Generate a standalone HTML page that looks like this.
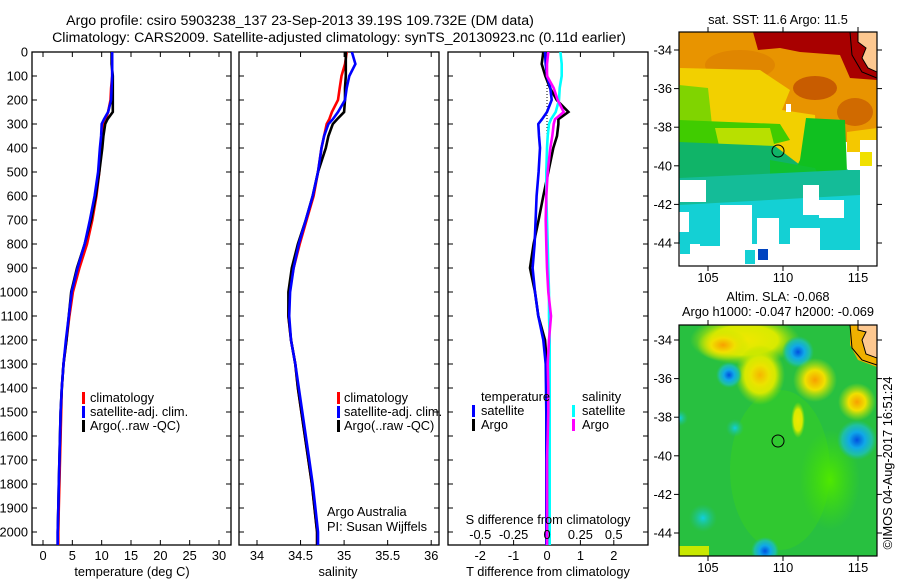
<!DOCTYPE html>
<html><head><meta charset="utf-8">
<style>
html,body{margin:0;padding:0;background:#fff;}
svg{display:block;font-family:"Liberation Sans",sans-serif;}
text{font-size:12.8px;fill:#000;}
</style></head>
<body>
<svg id="fig" width="900" height="580" viewBox="0 0 900 580" xmlns="http://www.w3.org/2000/svg">
<defs>
  <clipPath id="c1"><rect x="32" y="52" width="199" height="493"/></clipPath>
  <clipPath id="c2"><rect x="239" y="52" width="200" height="493"/></clipPath>
  <clipPath id="c3"><rect x="448" y="52" width="200" height="493"/></clipPath>
  <clipPath id="cm1"><rect x="679" y="32" width="198" height="234"/></clipPath>
  <clipPath id="cm2"><rect x="679" y="325" width="198" height="231"/></clipPath>
  <radialGradient id="gy"><stop offset="0" stop-color="#f8a000"/><stop offset="0.45" stop-color="#f0e000"/><stop offset="1" stop-color="#c0e800" stop-opacity="0"/></radialGradient>
  <radialGradient id="gyl"><stop offset="0" stop-color="#f0e800"/><stop offset="0.6" stop-color="#d8ea00"/><stop offset="1" stop-color="#a0e000" stop-opacity="0"/></radialGradient>
  <radialGradient id="gb"><stop offset="0" stop-color="#0050e0"/><stop offset="0.4" stop-color="#10a8e8"/><stop offset="0.75" stop-color="#20c0a0"/><stop offset="1" stop-color="#20c080" stop-opacity="0"/></radialGradient>
  <radialGradient id="gc"><stop offset="0" stop-color="#10d0e0"/><stop offset="1" stop-color="#20c090" stop-opacity="0"/></radialGradient>
  <radialGradient id="gl"><stop offset="0" stop-color="#50e800"/><stop offset="1" stop-color="#40e000" stop-opacity="0"/></radialGradient>
</defs>

<text x="300" y="25" text-anchor="middle" style="font-size:14.2px">Argo profile: csiro 5903238_137 23-Sep-2013 39.19S 109.732E (DM data)</text>
<text x="339" y="42" text-anchor="middle" style="font-size:14.2px">Climatology: CARS2009. Satellite-adjusted climatology: synTS_20130923.nc (0.11d earlier)</text>

<g id="p1"></g>
<g id="p2"></g>
<g id="p3"></g>

<!-- legends -->
<g>
  <rect x="82" y="392" width="3" height="12" fill="#f00"/><text x="90" y="402">climatology</text>
  <rect x="82" y="406" width="3" height="12" fill="#00f"/><text x="90" y="416">satellite-adj. clim.</text>
  <rect x="82" y="420" width="3" height="12" fill="#000"/><text x="90" y="430">Argo(..raw -QC)</text>
</g>
<g>
  <rect x="337" y="392" width="3" height="12" fill="#f00"/><text x="344" y="402">climatology</text>
  <rect x="337" y="406" width="3" height="12" fill="#00f"/><text x="344" y="416">satellite-adj. clim.</text>
  <rect x="337" y="420" width="3" height="12" fill="#000"/><text x="344" y="430">Argo(..raw -QC)</text>
</g>
<text x="327" y="516">Argo Australia</text>
<text x="327" y="531">PI: Susan Wijffels</text>
<g>
  <text x="481" y="401">temperature</text><text x="582" y="401">salinity</text>
  <rect x="472" y="405" width="3" height="12" fill="#00f"/><text x="481" y="415">satellite</text>
  <rect x="572" y="405" width="3" height="12" fill="#0ff"/><text x="582" y="415">satellite</text>
  <rect x="472" y="419" width="3" height="12" fill="#000"/><text x="481" y="429">Argo</text>
  <rect x="572" y="419" width="3" height="12" fill="#f0f"/><text x="582" y="429">Argo</text>
</g>

<!-- top map: SST -->
<g>
 <text x="778" y="24" text-anchor="middle">sat. SST: 11.6 Argo: 11.5</text>
 <g clip-path="url(#cm1)">
  <rect x="679" y="32" width="198" height="234" fill="#fff"/>
  <rect x="679" y="32" width="198" height="110" fill="#e89400"/>
  <ellipse cx="740" cy="65" rx="35" ry="15" fill="#e08600"/>
  <ellipse cx="815" cy="88" rx="22" ry="12" fill="#c85c00"/>
  <ellipse cx="855" cy="112" rx="18" ry="14" fill="#d06a00"/>
  <polygon points="753,32 877,32 877,80 850,78 840,55 800,52 780,48 758,50" fill="#a80000"/>
  <polygon points="680,68 760,70 790,90 782,110 815,115 817,165 790,168 770,150 740,130 680,128" fill="#f2d000"/>
  <polygon points="679,85 708,88 712,125 679,125" fill="#80d400"/>
  <polygon points="679,120 780,124 790,140 770,145 679,145" fill="#40cc00"/>
  <polygon points="715,128 770,128 775,148 720,150" fill="#b8e000"/>
  <polygon points="847,132 877,128 877,152 847,152" fill="#f4c800"/>
  <polygon points="679,142 775,146 800,165 810,182 679,182" fill="#10b468"/>
  <polygon points="806,118 845,120 847,172 806,192 790,180 800,160" fill="#10c020"/>
  <polygon points="770,160 815,168 830,200 770,195" fill="#10c030"/>
  <polygon points="679,178 845,170 870,165 870,200 679,212" fill="#14bc98"/>
  <polygon points="679,205 860,195 870,250 679,250" fill="#14d0d4"/>
  <rect x="860" y="140" width="17" height="126" fill="#fff"/>
  <rect x="848" y="152" width="12" height="18" fill="#fff"/>
  <rect x="860" y="152" width="12" height="14" fill="#f0e000"/>
  <rect x="680" y="180" width="26" height="22" fill="#fff"/>
  <rect x="679" y="212" width="10" height="20" fill="#fff"/>
  <rect x="720" y="205" width="32" height="40" fill="#fff"/>
  <rect x="803" y="185" width="16" height="30" fill="#fff"/>
  <rect x="819" y="200" width="25" height="18" fill="#fff"/>
  <rect x="757" y="218" width="22" height="26" fill="#fff"/>
  <rect x="790" y="228" width="30" height="18" fill="#fff"/>
  <rect x="679" y="244" width="198" height="22" fill="#fff"/>
  <rect x="680" y="244" width="10" height="10" fill="#14d0d4"/>
  <rect x="700" y="230" width="20" height="16" fill="#14d0d4"/>
  <rect x="745" y="250" width="10" height="14" fill="#14d0d4"/>
  <rect x="758" y="249" width="10" height="11" fill="#0044c0"/>
  <rect x="820" y="240" width="40" height="10" fill="#14d0d4"/>
  <rect x="786" y="104" width="5" height="8" fill="#fff"/>
  <polygon points="858,32 877,32 877,72 868,68 862,58 866,48 858,42" fill="#fdc890" stroke="#000" stroke-width="1"/>
  <path d="M850,32 L852,55 L862,72 L877,78" fill="none" stroke="#000" stroke-width="1"/>
 </g>
 <rect x="679" y="32" width="198" height="234" fill="none" stroke="#000" stroke-width="1.2"/>
 <circle cx="778" cy="151" r="6" fill="none" stroke="#000" stroke-width="1"/>
 <g id="m1ax"></g>
</g>

<!-- bottom map: SLA -->
<g>
 <text x="778" y="301" text-anchor="middle">Altim. SLA: -0.068</text>
 <text x="778" y="316" text-anchor="middle">Argo h1000: -0.047 h2000: -0.069</text>
 <g clip-path="url(#cm2)">
  <rect x="679" y="325" width="198" height="231" fill="#28c040"/>
  <ellipse cx="780" cy="470" rx="50" ry="80" fill="#30c830"/>
  <ellipse cx="830" cy="480" rx="30" ry="50" fill="url(#gl)"/>
  <ellipse cx="745" cy="340" rx="55" ry="25" fill="url(#gyl)"/>
  <ellipse cx="760" cy="375" rx="25" ry="30" fill="url(#gyl)"/>
  <ellipse cx="723" cy="345" rx="26" ry="16" fill="url(#gy)"/>
  <ellipse cx="760" cy="375" rx="20" ry="22" fill="url(#gy)" opacity="0.7"/>
  <ellipse cx="798" cy="420" rx="7" ry="18" fill="url(#gyl)"/>
  <circle cx="798" cy="352" r="16" fill="url(#gb)"/>
  <circle cx="729" cy="375" r="13" fill="url(#gb)"/>
  <circle cx="815" cy="380" r="22" fill="url(#gy)"/>
  <circle cx="857" cy="402" r="19" fill="url(#gy)"/>
  <circle cx="857" cy="440" r="20" fill="url(#gb)"/>
  <circle cx="735" cy="428" r="9" fill="url(#gc)"/>
  <circle cx="680" cy="418" r="8" fill="url(#gc)"/>
  <circle cx="703" cy="518" r="14" fill="url(#gc)"/>
  <circle cx="765" cy="551" r="14" fill="url(#gb)"/>
  <rect x="679" y="546" width="30" height="10" fill="#c8e800"/>
  <polygon points="850,325 877,325 877,367 858,360 850,345" fill="#f0b000"/>
  <polygon points="858,325 877,325 877,358 866,354 862,340 866,332 858,330" fill="#fdc890" stroke="#000" stroke-width="1"/>
  <path d="M850,325 L852,348 L862,360 L877,365" fill="none" stroke="#000" stroke-width="1"/>
 </g>
 <rect x="679" y="325" width="198" height="231" fill="none" stroke="#000" stroke-width="1.2"/>
 <circle cx="778" cy="441" r="6" fill="none" stroke="#000" stroke-width="1"/>
 <g id="m2ax"></g>
</g>
<text transform="translate(892,463) rotate(-90)" text-anchor="middle">©IMOS 04-Aug-2017 16:51:24</text>

<script>
// ---- data ----
const depths    = [0, 50, 100, 150, 200, 250, 280, 300, 350, 400, 500, 600, 700, 800, 900, 1000, 1100, 1200, 1300, 1400, 1500, 1600, 1700, 1800, 1900, 2000, 2055];
const tempClim  = [11.8, 11.8, 11.8, 11.6, 11.5, 11.1, 10.7, 10.4, 10.1, 9.9, 9.6, 9.1, 8.4, 7.5, 6.2, 5.1, 4.5, 4.0, 3.5, 3.2, 3.1, 3.0, 2.9, 2.8, 2.7, 2.6, 2.6];
const tempSat   = [11.8, 11.8, 11.8, 11.7, 11.6, 11.1, 10.4, 10.0, 9.9, 9.7, 9.4, 8.8, 8.0, 7.1, 5.9, 4.9, 4.4, 3.9, 3.5, 3.2, 3.0, 2.9, 2.8, 2.7, 2.6, 2.5, 2.5];
const tempArgo  = [11.7, 11.7, 11.9, 11.9, 11.9, 11.9, 11.0, 10.6, 10.3, 10.1, 9.6, 9.0, 8.2, 7.1, 5.8, 4.8, 4.4, 4.0, 3.5, 3.2, 3.0, 2.9, 2.8, 2.7, 2.6, 2.5, 2.5];
const salClim   = [35.03, 35.01, 34.97, 34.95, 34.93, 34.86, 34.83, 34.80, 34.77, 34.74, 34.70, 34.65, 34.57, 34.49, 34.42, 34.37, 34.36, 34.39, 34.44, 34.47, 34.51, 34.55, 34.59, 34.63, 34.66, 34.69, 34.69];
const salSat    = [35.09, 35.13, 35.06, 35.03, 35.01, 34.93, 34.87, 34.82, 34.77, 34.74, 34.70, 34.64, 34.56, 34.48, 34.42, 34.38, 34.37, 34.39, 34.44, 34.48, 34.52, 34.56, 34.60, 34.64, 34.67, 34.70, 34.70];
const salArgo   = [35.02, 35.02, 35.02, 35.01, 35.01, 35.00, 34.92, 34.87, 34.82, 34.79, 34.70, 34.64, 34.56, 34.47, 34.40, 34.36, 34.36, 34.39, 34.44, 34.47, 34.51, 34.55, 34.59, 34.63, 34.66, 34.69, 34.69];
const dTSat     = [-0.06, -0.04, 0.0, 0.1, 0.14, 0.0, -0.15, -0.26, -0.24, -0.21, -0.25, -0.31, -0.34, -0.37, -0.43, -0.36, -0.26, -0.11, -0.04, -0.03, -0.02, -0.02, -0.02, -0.02, -0.02, -0.02, -0.02];
const dTArgo    = [-0.11, -0.16, -0.05, 0.09, 0.29, 0.64, 0.34, 0.34, 0.3, 0.19, 0.04, -0.11, -0.25, -0.4, -0.51, -0.36, -0.26, -0.06, 0.0, 0.0, 0.0, 0.0, 0.0, 0.0, 0.0, 0.0, 0.0];
const dSSat     = [0.1, 0.11, 0.11, 0.095, 0.09, 0.065, 0.03, 0.015, 0.005, 0.0, -0.005, -0.005, 0.0, 0.005, 0.01, 0.015, 0.015, 0.02, 0.02, 0.02, 0.02, 0.02, 0.02, 0.02, 0.02, 0.02, 0.02];
const dSArgo    = [0.01, 0.0, 0.0, 0.05, 0.08, 0.125, 0.06, 0.05, 0.04, 0.025, 0.005, -0.005, -0.01, -0.005, 0.0, 0.01, 0.03, 0.015, 0.005, 0.01, 0.01, 0.005, 0.0, 0.0, 0.0, 0.0, 0.0];
const depthTicks = [0,100,200,300,400,500,600,700,800,900,1000,1100,1200,1300,1400,1500,1600,1700,1800,1900,2000];
const tempTicks  = [0,5,10,15,20,25,30];
const salTicks   = [34,34.5,35,35.5,36];
const dTTicks    = [-2,-1,0,1,2];
const dSTicks    = [-0.5,-0.25,0,0.25,0.5];
const lonTicks   = [105,110,115];
const latTicks   = [-34,-36,-38,-40,-42,-44];

// ---- scales ----
const NS='http://www.w3.org/2000/svg';
const yD = d => 52 + d*0.24;
const xT = t => 43 + t*5.867;
const xS = s => 257 + (s-34)*87.1;
const xdT = v => 547 + v*33.4;
const xdS = v => 547 + v*133.5;
const lonX = l => 708 + (l-105)*15;
const latY1 = a => 50 + (-34-a)*19.3;
const latY2 = a => 340 + (-34-a)*19.3;

function mk(tag, attrs, parent){const e=document.createElementNS(NS,tag);for(const k in attrs)e.setAttribute(k,attrs[k]);parent.appendChild(e);return e;}
function txt(parent,x,y,s,anchor){const t=mk('text',{x:x,y:y,'text-anchor':anchor||'middle'},parent);t.textContent=s;return t;}

function frame(g,x0,x1){
  const r=mk('rect',{x:x0,y:52,width:x1-x0,height:493,fill:'none',stroke:'#000','stroke-width':1.3},g);
  
  
  depthTicks.forEach(d=>{
    mk('line',{x1:x0,x2:x0+5,y1:yD(d),y2:yD(d),stroke:'#000'},g);
    mk('line',{x1:x1-5,x2:x1,y1:yD(d),y2:yD(d),stroke:'#000'},g);
  });
}
function xticks(g,ticks,sc,y,top){
  ticks.forEach(t=>{
    mk('line',{x1:sc(t),x2:sc(t),y1:545,y2:540,stroke:'#000'},g);
    if(top) mk('line',{x1:sc(t),x2:sc(t),y1:52,y2:57,stroke:'#000'},g);
    const l=txt(g,sc(t),y,String(t));
    
    
  });
}
function line(g,xs,sc,color,clip,w){
  const pts=xs.map((v,i)=>sc(v).toFixed(1)+','+yD(depths[i]).toFixed(1)).join(' ');
  return mk('polyline',{points:pts,fill:'none',stroke:color,'stroke-width':w||2.6,'clip-path':'url(#'+clip+')'},g);
}

// panel 1
const p1=document.getElementById('p1');
frame(p1,32,231);
depthTicks.forEach(d=>{const l=txt(p1,28,yD(d)+4.5,String(d),'end');

});
xticks(p1,tempTicks,xT,560,true);
let s;
s=line(p1,tempClim,xT,'#f00','c1');


s=line(p1,tempArgo,xT,'#000','c1');


s=line(p1,tempSat,xT,'#00f','c1');


let t=txt(p1,132,576,'temperature (deg C)');



// panel 2
const p2=document.getElementById('p2');
frame(p2,239,439);
xticks(p2,salTicks,xS,560,true);
s=line(p2,salClim,xS,'#f00','c2');


s=line(p2,salArgo,xS,'#000','c2');


s=line(p2,salSat,xS,'#00f','c2');


t=txt(p2,338,576,'salinity');



// panel 3
const p3=document.getElementById('p3');
frame(p3,448,648);
xticks(p3,dTTicks,xdT,560,true);
mk('line',{x1:547,x2:547,y1:52,y2:250,stroke:'#000','stroke-dasharray':'1,2'},p3);
s=line(p3,dTArgo,xdT,'#000','c3');


s=line(p3,dTSat,xdT,'#00f','c3');


s=line(p3,dSSat,xdS,'#0ff','c3');


s=line(p3,dSArgo,xdS,'#f0f','c3');


t=txt(p3,548,524,'S difference from climatology');


dSTicks.forEach(v=>{const l=txt(p3,xdS(v),539,String(v));

});
t=txt(p3,548,576,'T difference from climatology');



// map axes
function mapAxes(id,y0,y1,latY){
  const g=document.getElementById(id);
  lonTicks.forEach(l=>{
    mk('line',{x1:lonX(l),x2:lonX(l),y1:y0,y2:y0-5,stroke:'#000'},g);
    mk('line',{x1:lonX(l),x2:lonX(l),y1:y1,y2:y1+5,stroke:'#000'},g);
    const a=txt(g,lonX(l),y1+16,String(l));
    
    
  });
  latTicks.forEach(a=>{
    mk('line',{x1:674,x2:679,y1:latY(a),y2:latY(a),stroke:'#000'},g);
    mk('line',{x1:877,x2:882,y1:latY(a),y2:latY(a),stroke:'#000'},g);
    const b=txt(g,672,latY(a)+4.5,String(a),'end');
    
    
  });
}
mapAxes('m1ax',32,266,latY1);
mapAxes('m2ax',325,556,latY2);
</script>
</svg>
</body></html>
